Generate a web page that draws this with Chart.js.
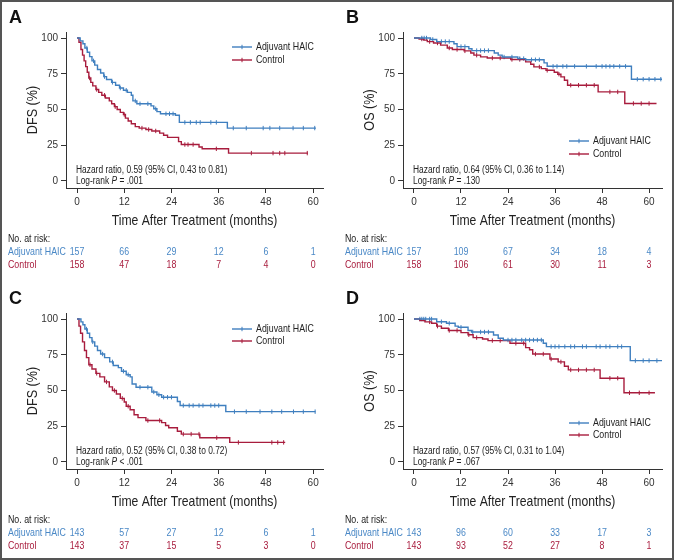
<!DOCTYPE html>
<html>
<head>
<meta charset="utf-8">
<script src="https://cdn.jsdelivr.net/npm/chart.js@4.4.1/dist/chart.umd.min.js"></script>
<style>
    body { margin: 0; background: #fff; }
    #frame { position: relative; width: 674px; height: 560px; overflow: hidden; }
    #frame:after { content: ''; position: absolute; left: 0; top: 0; right: 0; bottom: 0; border: 2px solid #555; pointer-events: none; }
    canvas { position: absolute; }
</style>
</head>
<body>
<div id="frame">
    <canvas id="panelA" width="337" height="280" style="left:0;top:0"></canvas>
    <canvas id="panelB" width="337" height="280" style="left:337px;top:0"></canvas>
    <canvas id="panelC" width="337" height="280" style="left:0;top:281px"></canvas>
    <canvas id="panelD" width="337" height="280" style="left:337px;top:281px"></canvas>
</div>
<script>
const monthTicks = [0, 12, 24, 36, 48, 60];
const pctTicks = [0, 25, 50, 75, 100];
const riskTimes = [0, 12, 24, 36, 48, 60];
const groupNames = ['Adjuvant HAIC', 'Control'];

// A: DFS
const aHaicT = [0, 0.8, 1.5, 2.0, 2.6, 3.2, 3.8, 4.5, 5.2, 6.0, 6.8, 7.5, 8.8, 9.8, 10.8, 11.8, 12.8, 13.8, 14.2, 15.2, 18.8, 19.5, 20.3, 21.2, 25.0, 26.0, 38.2, 60.7];
const aHaicS = [100, 98, 96, 93, 90, 87, 84, 81, 78, 75.5, 73, 71, 69, 67, 65, 63.5, 62, 60, 56, 54, 52.5, 50.5, 48.5, 47, 46, 41, 37, 37];
const aHaicCens = [2.5, 4.2, 7, 9, 11, 12.5, 14.8, 16, 18, 20, 22.6, 23.5, 24.4, 27.4, 28.8, 30.3, 31.3, 34.0, 35.4, 39.7, 43, 47.3, 49, 51.5, 54.9, 57.5, 60.4];
const aCtrlT = [0, 0.5, 1.0, 1.4, 1.8, 2.2, 2.6, 3.0, 3.5, 4.0, 4.8, 5.5, 6.3, 7.2, 8.2, 8.8, 9.5, 10.2, 11.0, 11.8, 12.3, 13.0, 13.8, 14.8, 15.8, 17.5, 19.0, 21.0, 22.0, 23.0, 25.8, 26.5, 31.0, 31.8, 38.5, 58.7];
const aCtrlS = [100, 97, 92, 88, 84, 80, 76, 72, 69, 66.5, 64, 62, 60, 58, 56, 54, 52, 50, 48, 46.5, 44, 42, 40, 38, 37, 36, 35, 33.5, 32, 30.5, 27.5, 25.5, 23.8, 22.5, 19.5, 19.5];
const aCtrlCens = [3.2, 5, 7, 9.7, 12, 16.5, 18.2, 20, 27.4, 28.2, 29.5, 35.4, 44.3, 49.8, 51.5, 52.8, 58.5];

// B: OS
const bHaicT = [0, 4.2, 5.8, 10.2, 11.0, 14.0, 14.8, 20.5, 21.5, 22.5, 26.5, 28.5, 33.2, 34.0, 55.5, 64];
const bHaicS = [100, 99, 97.5, 96, 94, 92.5, 91.2, 89.5, 88, 86.7, 85.6, 84.8, 82.6, 80.2, 71.2, 71.2];
const bHaicCens = [2, 2.6, 3.2, 4.8, 7, 8, 9, 12, 13, 16, 17, 18, 19, 23, 25, 27, 28, 30, 31, 32, 35.5, 36.5, 38, 39, 41, 44, 46.5, 48, 49, 50, 51, 52.5, 54, 57, 58.5, 60, 61.5, 63];
const bCtrlT = [0, 1.3, 2.5, 3.4, 5.0, 6.8, 8.5, 9.8, 12.8, 14.5, 15.3, 17.0, 18.7, 24.7, 28.5, 29.8, 30.6, 32.5, 33.7, 35.8, 36.7, 37.5, 38.4, 39.2, 47.0, 53.8, 61.9];
const bCtrlS = [100, 99.3, 98.5, 97.5, 96.5, 95, 93, 92, 91, 89.5, 88, 86.8, 86, 85, 83.3, 81.6, 79.8, 78.6, 77.4, 76, 74.7, 72.8, 70.5, 67, 62.3, 54.2, 54.2];
const bCtrlCens = [2, 4, 6, 9, 11, 13, 16, 20, 22, 25, 27, 32, 34, 37, 40, 42, 44, 46, 50, 52, 56, 58, 60];

// C: DFS
const cHaicT = [0, 1.0, 1.5, 2.0, 2.6, 3.2, 3.8, 4.5, 5.2, 6.0, 7.0, 8.3, 9.2, 10.5, 11.3, 12.5, 13.5, 14.0, 15.0, 19.0, 20.3, 21.5, 25.5, 26.2, 37.8, 60.6];
const cHaicS = [100, 98, 96, 93, 90, 87, 84, 81, 78, 75.5, 73, 70, 67.5, 66, 63.5, 61, 59.5, 54.5, 52.3, 49, 47, 45.3, 42.3, 39.5, 35.2, 35.2];
const cHaicCens = [2.4, 4, 6.5, 9, 11.8, 13, 16, 18, 19.5, 20.8, 22, 23, 24, 27, 28.5, 29.5, 31, 32, 34, 35, 36, 40, 43, 46.5, 49.5, 52, 55, 57.5, 60.5];
const cCtrlT = [0, 0.5, 0.9, 1.4, 1.9, 2.4, 3.0, 3.8, 4.8, 5.8, 7.0, 8.2, 9.0, 10.0, 11.0, 12.0, 12.5, 13.5, 14.5, 15.5, 17.5, 21.5, 22.5, 23.3, 25.5, 26.5, 31.2, 38.8, 52.9];
const cCtrlS = [100, 95, 90, 84, 78, 73, 68, 65, 62, 59.5, 56, 52.5, 50, 47.5, 44.5, 42, 39, 36.5, 33, 31, 29, 27.5, 25.5, 24, 21.5, 19.5, 17, 13.7, 13.7];
const cCtrlCens = [3.3, 5, 7.5, 9.5, 11.5, 13, 18, 21, 27, 29, 31, 35.5, 41, 49.5, 51, 52.5];

// D: OS
const dHaicT = [0, 5.8, 8.3, 10.5, 11.3, 13.8, 14.7, 20.3, 21.5, 22.8, 33.0, 33.8, 55.2, 64];
const dHaicS = [100, 98.1, 97, 95, 94.2, 92, 90.9, 88.8, 86.5, 85.3, 83, 80.7, 70.9, 70.9];
const dHaicCens = [1.5, 2, 2.5, 3, 4, 4.5, 7, 9, 12, 15, 17, 18, 19, 24, 25, 26, 27.5, 28.5, 29.5, 30.5, 31.5, 32.5, 35, 36, 37, 38.5, 40, 41, 43, 44, 46.5, 47.5, 49, 50, 52, 53, 56.5, 58.5, 60, 62, 64];
const dCtrlT = [0, 1.5, 2.8, 4.5, 5.8, 7.0, 8.8, 12.0, 13.8, 15.1, 17.5, 18.9, 24.5, 28.5, 29.5, 30.3, 34.7, 36.8, 38.4, 39.4, 47.5, 53.6, 61.5];
const dCtrlS = [100, 99, 98, 97, 95, 93.5, 92, 90.5, 89, 87, 86, 84.9, 83, 80, 78.5, 75.5, 72, 70, 67, 64.4, 58.6, 48.4, 48.4];
const dCtrlCens = [4, 6, 9, 11, 14, 16, 20, 22, 26, 28, 31, 33, 35, 37.5, 40, 42, 44, 46, 50, 52, 55, 57.5, 60];

// numbers at risk
const riskAHaic = [157, 66, 29, 12, 6, 1];
const riskACtrl = [158, 47, 18, 7, 4, 0];
const riskBHaic = [157, 109, 67, 34, 18, 4];
const riskBCtrl = [158, 106, 61, 30, 11, 3];
const riskCHaic = [143, 57, 27, 12, 6, 1];
const riskCCtrl = [143, 37, 15, 5, 3, 0];
const riskDHaic = [143, 96, 60, 33, 17, 3];
const riskDCtrl = [143, 93, 52, 27, 8, 1];

const BLUE = '#3f7fbf';
const RED = '#a81c3d';
const BLUE_TXT = '#4a88c6';
const SANS = "'Liberation Sans', Arial, sans-serif";
const INK = '#222';
const SQ = 0.84; // no narrow face installed, squeeze the regular one

function survAt(times, surv, t) {
    let s = surv[0];
    for (let i = 0; i < times.length; i++) {
        if (times[i] <= t) s = surv[i];
    }
    return s;
}

function curve(times, surv, color) {
    return {
        data: times.map((t, i) => ({ x: t, y: surv[i] })),
        borderColor: color,
        borderWidth: 1.4,
        stepped: true,
        pointRadius: 0,
        fill: false
    };
}

function censors(cens, times, surv, color) {
    return {
        data: cens.map(t => ({ x: t, y: survAt(times, surv, t) })),
        showLine: false,
        pointStyle: 'line',
        rotation: 90,
        pointRadius: 2.2,
        pointBorderWidth: 1,
        borderColor: color,
        backgroundColor: color
    };
}

// narrow-looking text, returns drawn width
function sqText(ctx, txt, x, y, font, align, color) {
    ctx.save();
    ctx.font = font;
    ctx.fillStyle = color;
    ctx.textAlign = align;
    ctx.textBaseline = 'middle';
    ctx.translate(x, y);
    ctx.scale(SQ, 1);
    ctx.fillText(txt, 0, 0);
    const w = ctx.measureText(txt).width * SQ;
    ctx.restore();
    return w;
}

// letter, titles, legend, hazard text and risk table
const panelText = {
    id: 'panelText',
    afterDraw(chart) {
        const p = chart.options.plugins.panelText;
        const ctx = chart.ctx;
        const xs = chart.scales.x;
        const area = chart.chartArea;

        ctx.save();
        ctx.fillStyle = '#111';
        ctx.textBaseline = 'middle';
        ctx.font = 'bold 18px ' + SANS;
        ctx.fillText(p.letter, 9, 18);
        ctx.restore();

        // axis titles
        sqText(ctx, 'Time After Treatment (months)', (area.left + area.right) / 2, 221, '14.5px ' + SANS, 'center', INK);
        ctx.save();
        ctx.translate(33, (area.top + area.bottom) / 2);
        ctx.rotate(-Math.PI / 2);
        sqText(ctx, p.yTitle, 0, 0, '15px ' + SANS, 'center', INK);
        ctx.restore();

        // legend
        [BLUE, RED].forEach((c, i) => {
            const y = p.legendY[i];
            ctx.save();
            ctx.strokeStyle = c;
            ctx.lineWidth = 1.4;
            ctx.beginPath();
            ctx.moveTo(232, y);
            ctx.lineTo(252, y);
            ctx.stroke();
            ctx.lineWidth = 1;
            ctx.beginPath();
            ctx.moveTo(242, y - 2.2);
            ctx.lineTo(242, y + 2.2);
            ctx.stroke();
            ctx.restore();
            sqText(ctx, groupNames[i], 256, y, '10.5px ' + SANS, 'left', INK);
        });

        // hazard ratio
        sqText(ctx, p.hr, 76, 170, '10px ' + SANS, 'left', INK);
        let x = 76;
        x += sqText(ctx, 'Log-rank ', x, 181, '10px ' + SANS, 'left', INK);
        x += sqText(ctx, 'P', x, 181, 'italic 10px ' + SANS, 'left', INK);
        sqText(ctx, p.pText, x, 181, '10px ' + SANS, 'left', INK);

        // number at risk
        sqText(ctx, 'No. at risk:', 8, 239, '10.5px ' + SANS, 'left', INK);
        const rows = [[p.riskHaic, BLUE_TXT, 252], [p.riskCtrl, RED, 265]];
        rows.forEach((r, i) => {
            sqText(ctx, groupNames[i], 8, r[2], '10.5px ' + SANS, 'left', r[1]);
            r[0].forEach((n, k) => {
                sqText(ctx, String(n), xs.getPixelForValue(riskTimes[k]), r[2], '10.5px ' + SANS, 'center', r[1]);
            });
        });
    }
};

function makePanel(id, cfg) {
    const ctx = document.getElementById(id).getContext('2d');
    return new Chart(ctx, {
        type: 'line',
        data: {
            datasets: [
                curve(cfg.haicT, cfg.haicS, BLUE),
                curve(cfg.ctrlT, cfg.ctrlS, RED),
                censors(cfg.haicCens, cfg.haicT, cfg.haicS, BLUE),
                censors(cfg.ctrlCens, cfg.ctrlT, cfg.ctrlS, RED)
            ]
        },
        options: {
            responsive: false,
            animation: false,
            layout: {
                padding: { top: 32, left: 0, right: 337 - cfg.right, bottom: 46 }
            },
            plugins: {
                legend: { display: false },
                tooltip: { enabled: false },
                panelText: cfg.text
            },
            scales: {
                x: {
                    type: 'linear',
                    min: -2.8,
                    max: cfg.xMax,
                    afterBuildTicks: s => { s.ticks = monthTicks.map(v => ({ value: v })); },
                    afterFit: s => { s.height = 46; },
                    grid: { drawOnChartArea: false, tickLength: 5, color: '#333' },
                    border: { color: '#333' },
                    ticks: { color: '#333', padding: 3, font: { family: SANS, size: 10 } }
                },
                y: {
                    min: -4.9,
                    max: 104.2,
                    afterBuildTicks: s => { s.ticks = pctTicks.map(v => ({ value: v })); },
                    afterFit: s => { s.width = 66; },
                    grid: { drawOnChartArea: false, tickLength: 5, color: '#333' },
                    border: { color: '#333' },
                    ticks: { color: '#333', padding: 3, font: { family: SANS, size: 10 } }
                }
            }
        },
        plugins: [panelText]
    });
}

makePanel('panelA', {
    haicT: aHaicT, haicS: aHaicS, haicCens: aHaicCens,
    ctrlT: aCtrlT, ctrlS: aCtrlS, ctrlCens: aCtrlCens,
    right: 323, xMax: 62.5,
    text: {
        letter: 'A', yTitle: 'DFS (%)', legendY: [47, 60],
        hr: 'Hazard ratio, 0.59 (95% CI, 0.43 to 0.81)', pText: ' = .001',
        riskHaic: riskAHaic, riskCtrl: riskACtrl
    }
});

makePanel('panelB', {
    haicT: bHaicT, haicS: bHaicS, haicCens: bHaicCens,
    ctrlT: bCtrlT, ctrlS: bCtrlS, ctrlCens: bCtrlCens,
    right: 325, xMax: 63.3,
    text: {
        letter: 'B', yTitle: 'OS (%)', legendY: [141, 154],
        hr: 'Hazard ratio, 0.64 (95% CI, 0.36 to 1.14)', pText: ' = .130',
        riskHaic: riskBHaic, riskCtrl: riskBCtrl
    }
});

makePanel('panelC', {
    haicT: cHaicT, haicS: cHaicS, haicCens: cHaicCens,
    ctrlT: cCtrlT, ctrlS: cCtrlS, ctrlCens: cCtrlCens,
    right: 323, xMax: 62.5,
    text: {
        letter: 'C', yTitle: 'DFS (%)', legendY: [48, 60],
        hr: 'Hazard ratio, 0.52 (95% CI, 0.38 to 0.72)', pText: ' < .001',
        riskHaic: riskCHaic, riskCtrl: riskCCtrl
    }
});

makePanel('panelD', {
    haicT: dHaicT, haicS: dHaicS, haicCens: dHaicCens,
    ctrlT: dCtrlT, ctrlS: dCtrlS, ctrlCens: dCtrlCens,
    right: 325, xMax: 63.3,
    text: {
        letter: 'D', yTitle: 'OS (%)', legendY: [142, 154],
        hr: 'Hazard ratio, 0.57 (95% CI, 0.31 to 1.04)', pText: ' = .067',
        riskHaic: riskDHaic, riskCtrl: riskDCtrl
    }
});
</script>
</body>
</html>
